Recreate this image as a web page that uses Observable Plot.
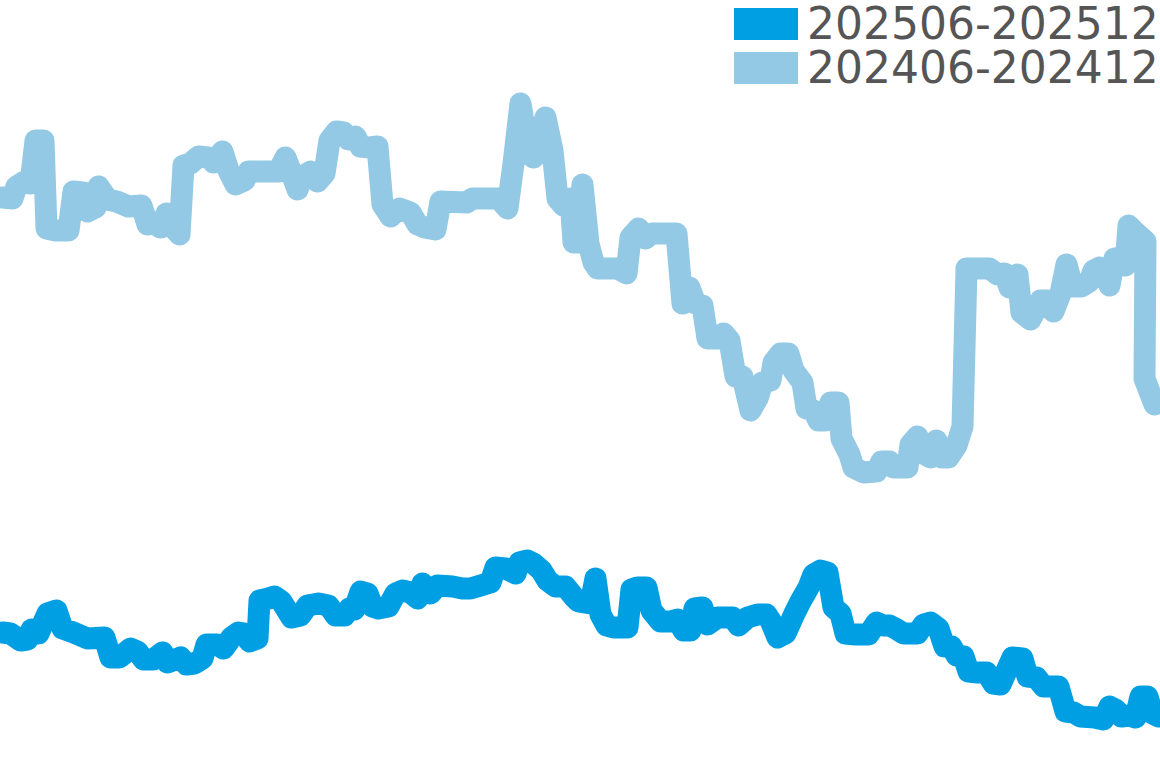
<!DOCTYPE html>
<html>
<head>
<meta charset="utf-8">
<script src="https://cdn.jsdelivr.net/npm/d3@7"></script>
<script src="https://cdn.jsdelivr.net/npm/@observablehq/plot@0.6"></script>
<style>
  html, body { margin: 0; padding: 0; background: #fff; }
  #wrap { position: relative; width: 1160px; height: 768px; overflow: hidden; }
  #legend { position: absolute; left: 734px; top: 2px; font-family: "DejaVu Sans", sans-serif; font-size: 44px; color: #555; line-height: 44px; }
  .row { display: flex; align-items: center; height: 44px; white-space: nowrap; }
  .sw { width: 64px; height: 32px; margin-right: 9px; }
</style>
</head>
<body>
<div id="wrap">
  <div id="chart"></div>
  <div id="legend"></div>
</div>
<script>
// Series labels and colours
const seriesNames = ["202506-202512", "202406-202412"];
const seriesColors = ["#009FE3", "#93C9E4"];

// 202406-202412 (light): time position and rank value (lower = higher on chart)
const tPrev = [2,12,16,24,30,35,43,46,55,68,73,82,87,95,98,107,116,128,141,147,153,160,166,170,179,183,190,198,208,213,222,228,235,244,248,278,285,292,297,302,310,317,324,329,336,343,348,355,360,369,377,382,390,399,410,417,424,435,440,466,472,498,507,513,520,528,533,545,552,557,563,570,573,578,582,588,593,597,617,626,630,638,645,651,676,682,689,695,702,707,718,723,729,735,742,750,757,762,770,773,780,788,793,802,806,813,818,825,830,838,841,849,853,863,876,881,889,893,907,910,917,923,930,936,942,948,956,962,966,989,997,1004,1009,1017,1021,1030,1040,1047,1053,1060,1066,1072,1081,1089,1093,1099,1105,1109,1114,1120,1125,1128,1135,1145,1144,1154];
const vPrev = [197,198,186,181,183,140,140,228,230,230,191,192,211,207,186,199,201,206,205,224,222,227,213,224,234,165,163,156,157,162,151,170,184,180,171,171,157,175,189,176,171,181,173,140,131,132,139,136,146,147,146,204,216,208,212,224,227,229,201,202,198,198,208,163,103,152,157,117,150,198,205,198,242,242,184,243,262,268,268,273,237,228,238,233,233,303,287,303,305,338,338,333,340,376,376,410,398,382,380,362,353,353,370,382,408,410,420,420,402,402,438,454,467,472,471,461,461,467,467,444,436,453,457,440,457,457,445,426,268,268,274,273,287,274,312,319,300,300,311,293,264,286,286,281,270,267,270,285,258,257,265,225,232,241,378,404];

// 202506-202512 (dark)
const tCur = [2,10,20,27,31,38,47,56,62,73,87,104,110,119,130,137,143,153,162,167,180,186,194,202,206,217,223,231,238,244,249,257,259,268,274,281,291,300,307,318,328,335,344,349,354,360,367,372,378,388,395,402,410,417,422,430,437,452,462,470,480,490,495,505,515,519,527,533,541,547,555,565,573,578,590,595,600,606,613,627,631,637,646,651,660,670,677,683,690,694,702,707,717,726,732,738,747,757,766,770,777,785,794,800,808,813,820,827,833,840,845,855,868,876,883,889,895,903,917,923,930,938,944,951,956,963,968,977,986,993,1000,1008,1012,1022,1027,1036,1043,1058,1065,1073,1080,1094,1103,1109,1115,1121,1129,1135,1140,1147,1152,1158];
const vCur = [632,633,640,639,629,633,613,610,628,632,638,637,657,657,648,651,659,659,652,662,657,664,663,658,644,644,648,637,632,633,641,638,600,598,596,601,617,615,605,603,605,615,615,608,609,591,593,606,608,606,593,590,592,598,583,593,585,586,588,588,585,582,567,568,573,562,560,563,570,580,586,586,596,601,603,578,614,625,627,627,589,587,587,610,621,621,619,630,630,608,607,624,617,617,617,625,617,614,614,620,637,633,613,601,587,574,570,572,607,613,633,634,634,622,625,625,628,633,633,624,622,628,646,646,655,656,671,672,672,683,684,666,657,658,676,677,686,686,711,712,716,717,719,706,709,716,715,717,696,696,713,716];

const data = [
  ...tPrev.map((t, i) => ({series: seriesNames[1], t, v: vPrev[i]})),
  ...tCur.map((t, i) => ({series: seriesNames[0], t, v: vCur[i]}))
];

const chart = Plot.plot({
  width: 1160,
  height: 768,
  margin: 0,
  x: {domain: [0, 1160], axis: null},
  y: {domain: [768, 0], axis: null},
  color: {domain: seriesNames, range: seriesColors},
  marks: [
    Plot.line(data, {x: "t", y: "v", z: "series", stroke: "series", strokeWidth: 22, strokeLinejoin: "round", strokeLinecap: "round"})
  ]
});
document.getElementById("chart").appendChild(chart);

const legend = document.getElementById("legend");
seriesNames.forEach((name, i) => {
  const row = document.createElement("div");
  row.className = "row";
  const sw = document.createElement("div");
  sw.className = "sw";
  sw.style.background = seriesColors[i];
  const label = document.createElement("span");
  label.textContent = name;
  row.appendChild(sw);
  row.appendChild(label);
  legend.appendChild(row);
});
</script>
</body>
</html>
